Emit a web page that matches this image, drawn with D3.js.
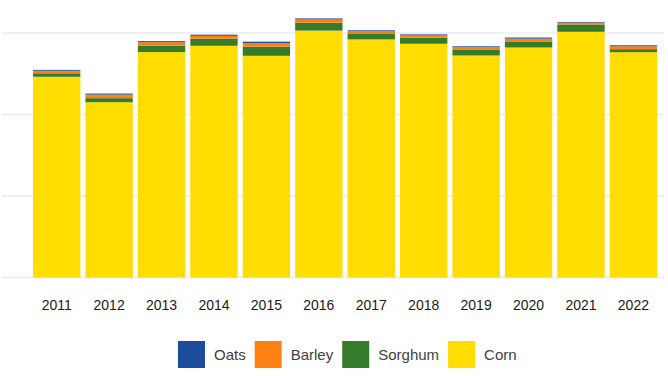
<!DOCTYPE html>
<html><head><meta charset="utf-8">
<script src="https://cdn.jsdelivr.net/npm/d3@7"></script>
<style>body{margin:0;background:#fff}svg{display:block}</style>
</head><body>
<svg id="c" width="668" height="376"></svg>
<script>
const years = ["2011","2012","2013","2014","2015","2016","2017","2018","2019","2020","2021","2022"];
const corn    = [12314,10755,13829,14216,13602,15148,14609,14340,13620,14111,15074,13820];
const sorghum = [214,247,389,433,560,480,365,365,341,373,448,188];
const barley  = [156,220,217,177,214,200,142,153,170,171,118,180];
const oats    = [54,64,65,70,90,65,49,56,53,66,40,58];
const seriesNames = ["Corn","Sorghum","Barley","Oats"];
const legendOrder = ["Oats","Barley","Sorghum","Corn"];
const yTicks = [0,5000,10000,15000];
const colors = {Oats:"#1d4c9c",Barley:"#fd8012",Sorghum:"#347b2b",Corn:"#ffdd00"};

const svg = d3.select("#c");
const rows = years.map((y,i)=>({year:y,Corn:corn[i],Sorghum:sorghum[i],Barley:barley[i],Oats:oats[i]}));
const x = d3.scaleBand().domain(years).range([30.5,659.6]).paddingInner(0.097).paddingOuter(0.048);
const y = d3.scaleLinear().domain([0,15000]).range([277.5,33]);

svg.append("g").selectAll("line").data(yTicks).join("line")
  .attr("x1",2).attr("x2",664).attr("y1",d=>y(d)).attr("y2",d=>y(d))
  .attr("stroke","#ebebeb").attr("stroke-width",1.5);

const stack = d3.stack().keys(seriesNames)(rows);
svg.append("g").selectAll("g").data(stack).join("g")
  .attr("fill",d=>colors[d.key])
  .selectAll("rect").data(d=>d).join("rect")
  .attr("x",d=>x(d.data.year)).attr("width",x.bandwidth())
  .attr("y",d=>y(d[1])).attr("height",d=>y(d[0])-y(d[1]));

const xa = svg.append("g").attr("transform","translate(0,277.5)")
  .call(d3.axisBottom(x).tickSize(0).tickPadding(23));
xa.select(".domain").remove();
xa.selectAll("text").attr("font-family","Liberation Sans, Arial, sans-serif").attr("font-size","14px").attr("fill","#1a1a1a");

const lg = svg.append("g");
let lx = 178;
legendOrder.forEach(k=>{
  lg.append("rect").attr("x",lx).attr("y",341).attr("width",27).attr("height",27).attr("fill",colors[k]);
  const t = lg.append("text").attr("x",lx+36).attr("y",355).attr("dy","0.35em")
    .attr("font-family","Liberation Sans, Arial, sans-serif").attr("font-size","15px").attr("fill","#404040").text(k);
  lx += 36 + t.node().getComputedTextLength() + 9;
});
</script>
</body></html>
